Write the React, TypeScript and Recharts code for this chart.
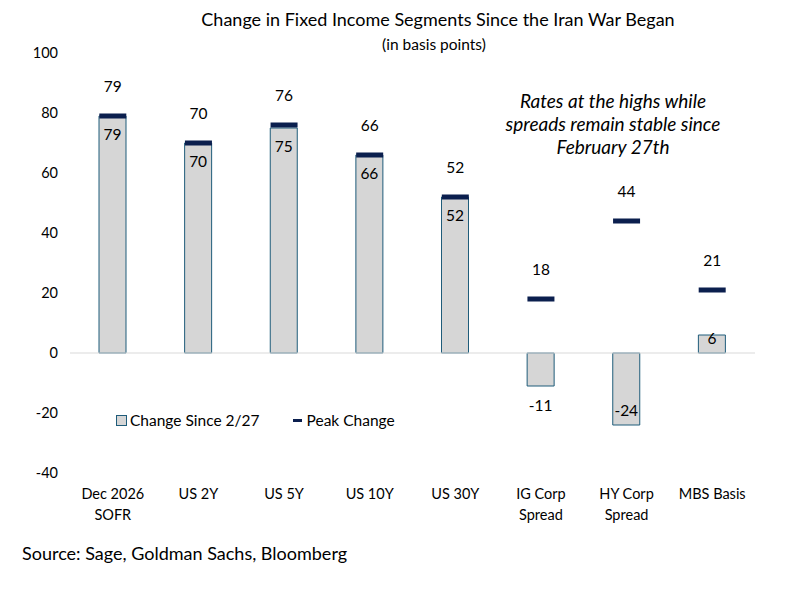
import React from 'react';
import { ComposedChart, Bar, Scatter, XAxis, YAxis, ReferenceLine, LabelList } from 'recharts';

const categories = ['Dec 2026\nSOFR', 'US 2Y', 'US 5Y', 'US 10Y', 'US 30Y', 'IG Corp\nSpread', 'HY Corp\nSpread', 'MBS Basis'];
const changeSince = [79, 70, 75, 66, 52, -11, -24, 6];
const peakChange = [79, 70, 76, 66, 52, 18, 44, 21];
const yTicks = [-40, -20, 0, 20, 40, 60, 80, 100];

const data = categories.map((name, i) => ({
  name,
  change: changeSince[i],
  peak: peakChange[i],
}));

const FONT = 'Lato, "Open Sans", sans-serif';
const BAR_FILL = '#d6d6d6';
const BAR_STROKE = '#1f5c7a';
const PEAK = '#0b1f4e';
const BAR_W = 27;

const XTick = (props: any) => {
  const { x, y, payload } = props;
  const lines = String(payload.value).split('\n');
  return (
    <text x={x} y={y + 18} textAnchor="middle" fontFamily={FONT} fontSize={14.5} fill="#000">
      {lines.map((l, i) => (
        <tspan key={i} x={x} dy={i === 0 ? 0 : 21}>{l}</tspan>
      ))}
    </text>
  );
};

const PeakMark = (props: any) => {
  const { cx, cy } = props;
  if (cx == null || cy == null) return null;
  return <rect x={cx - BAR_W / 2} y={cy - 2.5} width={BAR_W} height={5} fill={PEAK} />;
};

const PeakLabel = (props: any) => {
  const { x, y, width, value } = props;
  const cx = x + (width || 0) / 2;
  return (
    <text x={cx} y={y - 25} textAnchor="middle" dominantBaseline="central" fontFamily={FONT} fontSize={15.5} fill="#000">
      {value}
    </text>
  );
};

// Excel-like "inside end" labels, pushed outside when the bar is too short
const BarLabel = (props: any) => {
  const { x, y, width, height, value } = props;
  const cx = x + width / 2;
  const h = Math.abs(height);
  const top = Math.min(y, y + height);
  const bottom = Math.max(y, y + height);
  let ty;
  if (value >= 0) ty = h >= 34 ? top + 18 : top + 3;
  else ty = h >= 34 ? bottom - 15 : bottom + 19;
  return (
    <text x={cx} y={ty} textAnchor="middle" dominantBaseline="central" fontFamily={FONT} fontSize={15.5} fill="#000">
      {value}
    </text>
  );
};

export default function App() {
  return (
    <div style={{ position: 'absolute', left: 0, top: 0, width: 807, height: 602, background: '#fff' }}>
      <div style={{ position: 'absolute', left: 0, width: 876, top: 8, textAlign: 'center', fontFamily: FONT, fontSize: 18, color: '#000' }}>
        Change in Fixed Income Segments Since the Iran War Began
      </div>
      <div style={{ position: 'absolute', left: 0, width: 868, top: 35, textAlign: 'center', fontFamily: FONT, fontSize: 15.5, color: '#000' }}>
        (in basis points)
      </div>
      <div style={{ position: 'absolute', left: 498, width: 230, top: 89, textAlign: 'center', fontFamily: FONT, fontSize: 19, fontStyle: 'italic', lineHeight: '23px', color: '#000' }}>
        Rates at the highs while spreads remain stable since February 27th
      </div>
      <div style={{ position: 'absolute', left: 22, top: 542, fontFamily: FONT, fontSize: 18, color: '#000' }}>
        Source: Sage, Goldman Sachs, Bloomberg
      </div>
      <div style={{ position: 'absolute', left: 116, top: 411, display: 'flex', alignItems: 'center', fontFamily: FONT, fontSize: 15.5, color: '#000' }}>
        <span style={{ width: 9, height: 9, background: BAR_FILL, border: `1px solid ${BAR_STROKE}`, marginRight: 3 }} />
        <span>Change Since 2/27</span>
        <span style={{ width: 9, height: 3, background: PEAK, marginLeft: 33, marginRight: 5 }} />
        <span>Peak Change</span>
      </div>
      <ComposedChart width={807} height={602} data={data} margin={{ top: 53, right: 52, bottom: 99, left: 8 }} style={{ position: 'absolute', left: 0, top: 0 }}>
        <XAxis dataKey="name" axisLine={false} tickLine={false} tick={<XTick />} interval={0} height={30} />
        <YAxis
          domain={[-40, 100]}
          ticks={yTicks}
          axisLine={false}
          tickLine={false}
          width={62}
          tick={{ fontFamily: FONT, fontSize: 14.5, fill: '#000', dx: -4 }}
        />
        <ReferenceLine y={0} stroke="#d9d9d9" strokeWidth={1} />
        <Bar dataKey="change" name="Change Since 2/27" barSize={BAR_W} fill={BAR_FILL} stroke={BAR_STROKE} strokeWidth={1} isAnimationActive={false}>
          <LabelList dataKey="change" content={<BarLabel />} />
        </Bar>
        <Scatter dataKey="peak" name="Peak Change" shape={<PeakMark />} isAnimationActive={false}>
          <LabelList dataKey="peak" content={<PeakLabel />} />
        </Scatter>
      </ComposedChart>
    </div>
  );
}
